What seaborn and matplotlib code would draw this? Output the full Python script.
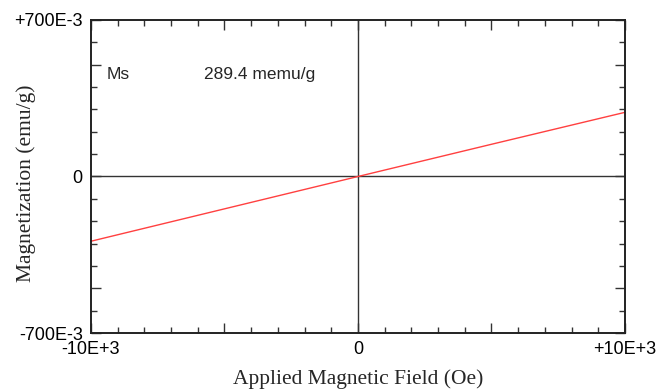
import matplotlib
matplotlib.use("Agg")
import matplotlib.pyplot as plt
import seaborn as sns
import pandas as pd
from matplotlib.ticker import MultipleLocator, FixedLocator

# data
field_oe = [-10000, -5000, 0, 5000, 10000]
magnetization = [-0.2895, -0.1447, 0.0, 0.1441, 0.2870]
x_ticks = [-10000, -5000, 0, 5000, 10000]
x_ticklabels = ["-10E+3", "", "0", "", "+10E+3"]
y_ticks = [-0.7, -0.5, 0, 0.5, 0.7]
y_ticklabels = ["-700E-3", "", "0", "", "+700E-3"]
ms_label = "Ms"
ms_value = "289.4 memu/g"

sns.set_style("ticks")
plt.rcParams['font.family'] = ['Liberation Sans', 'DejaVu Sans']

df = pd.DataFrame({"H": field_oe, "M": magnetization})

fig = plt.figure(figsize=(6.56, 3.92), dpi=100)
ax = fig.add_axes([0.1387, 0.1505, 0.814, 0.7985])

ax.axhline(0, color="#333333", lw=1.0, zorder=1)
ax.axvline(0, color="#333333", lw=1.0, zorder=1)
sns.lineplot(data=df, x="H", y="M", ax=ax, color="#ff4040", lw=1.0, zorder=2)

ax.set_xlim(-10000, 10000)
ax.set_ylim(-0.7, 0.7)

# labelled ends and centre, unlabelled half-way ticks, minor ticks
ax.xaxis.set_major_locator(FixedLocator(x_ticks))
ax.set_xticklabels(x_ticklabels)
ax.yaxis.set_major_locator(FixedLocator(y_ticks))
ax.set_yticklabels(y_ticklabels)
ax.xaxis.set_minor_locator(MultipleLocator(1000))
ax.yaxis.set_minor_locator(MultipleLocator(0.1))

ax.tick_params(which="both", direction="in", top=True, right=True,
               colors="#333333", labelcolor="black", width=1.0)
ax.tick_params(which="major", length=7.5, labelsize=13, pad=6)
ax.tick_params(which="minor", length=4)

for sp in ax.spines.values():
    sp.set_linewidth(1.4)
    sp.set_color("#222222")

ax.set_xlabel("Applied Magnetic Field (Oe)", family="Liberation Serif",
              fontsize=15.5)
ax.xaxis.set_label_coords(0.5, -0.115)
ax.set_ylabel("Magnetization (emu/g)", family="Liberation Serif",
              fontsize=15.5)
ax.yaxis.set_label_coords(-0.103, 0.48)

ax.text(0.03, 0.825, ms_label, transform=ax.transAxes, fontsize=12.5,
        va="center", ha="left")
ax.text(0.211, 0.825, ms_value, transform=ax.transAxes, fontsize=12.5,
        va="center", ha="left")

fig.savefig("out.png", dpi=100)
